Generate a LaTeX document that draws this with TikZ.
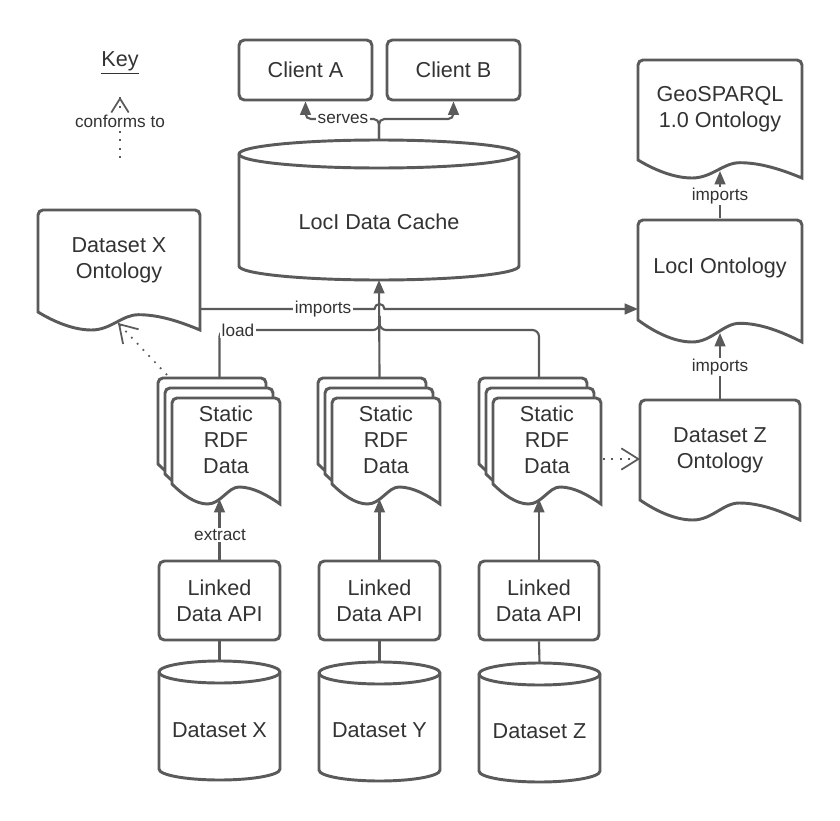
\documentclass[tikz,border=0pt]{standalone}
\usepackage{fontspec}
\setmainfont{Liberation Sans}
\usetikzlibrary{arrows.meta,calc}
\definecolor{lc}{HTML}{5A5A5A}
\definecolor{tc}{HTML}{333333}
\newcommand{\mainsz}{\fontsize{16.2}{19.5}\selectfont}
\newcommand{\lblsz}{\fontsize{12.9}{15}\selectfont}
% document shape: x1,y1,x2,yl,d
\newcommand{\docshape}[5]{%
  \draw[shp] ({#1},{#4}) -- ({#1},{(#2)+5}) arc[start angle=180,end angle=270,radius=5]
   -- ({(#3)-5},{#2}) arc[start angle=270,end angle=360,radius=5] -- ({#3},{(#4)+(#5)})
   .. controls ({(#3)-0.12*((#3)-(#1))},{(#4)+0.55*(#5)}) and ({(#1)+0.75*((#3)-(#1))},{(#4)+0.15*(#5)}) .. ({(#1)+0.62*((#3)-(#1))},{(#4)+0.15*(#5)})
   .. controls ({(#1)+0.52*((#3)-(#1))},{(#4)+0.15*(#5)}) and ({(#1)+0.45*((#3)-(#1))},{(#4)+(#5)}) .. ({(#1)+0.33*((#3)-(#1))},{(#4)+(#5)})
   .. controls ({(#1)+0.22*((#3)-(#1))},{(#4)+(#5)}) and ({(#1)+0.1*((#3)-(#1))},{(#4)+0.55*(#5)}) .. ({#1},{#4}) -- cycle;}
% cylinder: x1,y1(top),x2,y2(bottom),ry
\newcommand{\cylshape}[5]{%
  \draw[shp] (#3,#2+#5) arc[start angle=0,end angle=-180,x radius={(#3-#1)/2},y radius=#5]
   -- (#1,#4-#5) arc[start angle=180,end angle=0,x radius={(#3-#1)/2},y radius=#5] -- cycle;
  \draw[shp] (#1,#2+#5) arc[start angle=180,end angle=0,x radius={(#3-#1)/2},y radius=#5];}
\tikzset{
  sz/.style 2 args={minimum width=#1*0.75pt, minimum height=#2*0.75pt},
  shp/.style={draw=lc, line width=2.2pt, fill=white},
  box/.style={draw=lc, line width=2.2pt, rounded corners=4pt, fill=white, inner sep=0pt, text=tc, font=\mainsz, align=center},
  area/.style={inner sep=0pt, outer sep=0pt, text=tc, font=\mainsz, align=center},
  txt/.style={inner sep=0pt, text=tc, font=\mainsz, align=center},
  conn/.style={draw=lc, line width=1.6pt},
  tip/.style={-{Triangle[length=10pt,width=8pt]}},
  dotline/.style={draw=lc, line width=1.3pt, dash pattern=on 1.3pt off 5pt},
  barb/.style={draw=lc, line width=1.3pt, solid, -{Straight Barb[length=#1*0.8,width=#1,line width=1.3pt]}},
  lbl/.style={fill=white, inner sep=1pt, text=tc, font=\lblsz},
}
\begin{document}
\begin{tikzpicture}[x=0.75pt,y=-0.75pt]
\useasboundingbox[fill=white] (0,0) rectangle (840,821);

% ---- Key
\node[txt] (key) at (120,63) {\underline{Key}};
\coordinate (ktop) at (120,97);
\coordinate (kbot) at (120,158);
\draw[dotline] (kbot) -- (ktop);
\draw[barb=13pt] ($(ktop)!0.5pt!(kbot)$) -- (ktop);
\node[lbl] (conftxt) at (120,121) {conforms to};

% ---- Clients
\node[box, sz={133}{60}] (ca) at (305.5,70) {Client A};
\node[box, sz={133}{60}] (cb) at (453.5,70) {Client B};

% ---- Cache
\cylshape{239}{140}{519}{280}{14}
\node[area, sz={280}{140}] (cache) at (379,210) {};
\node[txt] (cachet) at (379,222) {LocI Data Cache};

% ---- Ontologies
\docshape{38}{210}{200}{312}{18}
\node[area, sz={162}{102}] (dxo) at (119,260) {Dataset X\\Ontology};
\docshape{638}{60}{802}{160}{18}
\node[area, sz={164}{100}] (geo) at (720,109) {GeoSPARQL\\1.0 Ontology};
\docshape{638}{220}{802}{320}{22}
\node[area, sz={164}{100}] (locio) at (720,268) {LocI Ontology};
\docshape{640}{400}{800}{500}{20}
\node[area, sz={160}{100}] (dzo) at (720,450) {Dataset Z\\Ontology};

% ---- Static RDF stacks
\foreach \dx/\nm in {0/x,160/y,321/z}{
  \docshape{158+\dx}{378}{266+\dx}{464}{20}
  \docshape{165+\dx}{388}{273+\dx}{474}{20}
  \docshape{172+\dx}{398}{280+\dx}{484}{20}
  \node[area, sz={108}{86}] (s\nm b) at (212+\dx,421) {};
  \node[area, sz={108}{86}] (s\nm) at (226+\dx,440) {Static\\RDF\\Data};
}

% ---- Linked Data APIs
\node[box, sz={121}{79}] (apix) at (219.5,600.5) {Linked\\Data API};
\node[box, sz={121}{79}] (apiy) at (379.5,600.5) {Linked\\Data API};
\node[box, sz={120}{79}] (apiz) at (539,600.5) {Linked\\Data API};

% ---- Datasets
\cylshape{159}{661}{280}{780}{11}
\node[area, sz={121}{119}] (dsx) at (219.5,720.5) {};
\node[txt] (dsxt) at (219.5,730) {Dataset X};
\cylshape{319}{662}{440}{781}{11}
\node[area, sz={121}{119}] (dsy) at (379.5,721.5) {};
\node[txt] (dsyt) at (379.5,730) {Dataset Y};
\cylshape{479}{663}{600}{782}{11}
\node[area, sz={121}{119}] (dsz) at (539.5,722.5) {};
\node[txt] (dszt) at (539.5,731) {Dataset Z};

% ---- coordinates
\coordinate (fork) at (379,119);
\coordinate (impL) at (200,309);
\coordinate (merge) at (379.5,330);
\coordinate (sxtop) at (apix.north |- sxb.north);
\coordinate (sytop) at (apiy.north |- syb.north);
\coordinate (sztop) at (apiz.north |- szb.north);
\coordinate (sxw) at (219.5,499);
\coordinate (syw) at (379.5,499);
\coordinate (szw) at (539,499);
\coordinate (geow) at (720,171);
\coordinate (lociw) at (720,333);
\coordinate (dxow) at (118,323);
\coordinate (sxcorner) at (167,375);
\coordinate (szright) at (603,459);
\coordinate (dzoin) at (dzo.west |- szright);

% ---- connectors
\draw[conn, tip, rounded corners=4pt] (cache.north) -- (fork) -| (ca.south);
\draw[conn, tip, rounded corners=4pt] (cache.north) -- (fork) -| (cb.south);
\node[lbl] (serves) at (343,119) {serves};

\draw[conn, tip] (impL) -- (374.5,309) arc[start angle=180,end angle=360,radius=5] -- (locio.west |- impL);
\node[lbl] (imp1) at (323,309) {imports};

\draw[conn, rounded corners=5pt] (sxtop) |- (merge) -- ++(0,-14);
\draw[conn, rounded corners=5pt] (sztop) |- (merge) -- ++(0,-14);
\draw[conn, tip] (sytop) -- (cache.south);
\node[lbl] (load) at (238,330) {load};

\draw[conn, tip] (locio.north) -- (geow);
\node[lbl] (imp2) at (720,196) {imports};
\draw[conn, tip] (dzo.north) -- (lociw);
\node[lbl] (imp3) at (720,367) {imports};

\draw[conn, tip] (apix.north) -- (sxw);
\node[lbl] (extract) at (220,535) {extract};
\draw[conn, tip] (apiy.north) -- (syw);
\draw[conn, tip] (apiz.north) -- (szw);

\draw[conn] (apix.south) -- (dsx.north);
\draw[conn] (apiy.south) -- (dsy.north);
\draw[conn] (apiz.south) -- (dsz.north);

\draw[dotline] (sxcorner) -- (dxow);
\draw[barb=16pt] ($(dxow)!0.5pt!(sxcorner)$) -- (dxow);
\draw[dotline] (szright) -- (dzoin);
\draw[barb=16pt] ($(dzoin)!0.5pt!(szright)$) -- (dzoin);
\end{tikzpicture}
\end{document}
